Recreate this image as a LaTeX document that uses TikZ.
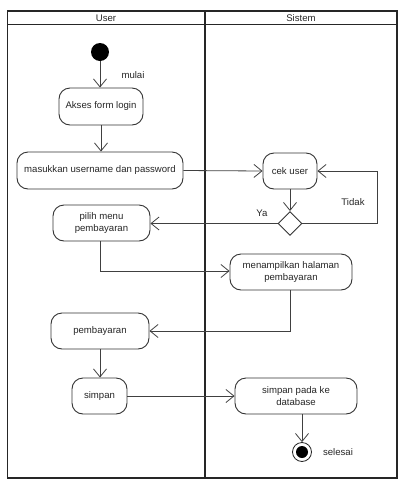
\documentclass[tikz,border=0pt]{standalone}
\usepackage{fontspec}
\setmainfont{Liberation Sans}
\usetikzlibrary{arrows.meta,shapes.geometric,calc}
\begin{document}
\begin{tikzpicture}[x=1pt,y=-1pt,
  every node/.style={font=\fontsize{9.6}{11.5}\selectfont, text=black!85},
  act/.style={draw=black!80, line width=0.9pt, rounded corners=11pt, align=center, inner sep=1pt},
  flow/.style={draw=black!75, line width=0.8pt, -{Straight Barb[length=8pt,width=13pt,line width=0.8pt]}},
  lane/.style={draw=black!85, line width=1.6pt},
  lbl/.style={inner sep=0pt}]
\useasboundingbox (0,0) rectangle (399,480);
% swimlane frame
\draw[lane] (7.5,11) rectangle (397,478);
\draw[lane] (7.5,24.5) -- (397,24.5);
\draw[lane] (205,11) -- (205,478);
\node[lbl] (hUser) at (106,18) {User};
\node[lbl] (hSis) at (301,18) {Sistem};
% nodes
\node[circle, fill=black, minimum size=18pt, inner sep=0pt] (start) at (100,52) {};
\node[lbl] (mulai) at (133,75) {mulai};
\node[act, minimum width=84pt, minimum height=37pt] (akses) at (101,106.5) {Akses form login};
\node[act, minimum width=166pt, minimum height=37pt] (masuk) at (100,170.5) {masukkan username dan password};
\node[act, minimum width=54pt, minimum height=36pt] (cek) at (290,171) {cek user};
\node[diamond, draw=black!80, line width=0.9pt, minimum width=24pt, minimum height=24pt, inner sep=0pt] (dec) at (290,223.5) {};
\node[act, minimum width=97pt, minimum height=36pt] (pilih) at (101.5,223) {pilih menu\\pembayaran};
\node[act, minimum width=122pt, minimum height=36pt] (tampil) at (291,272) {menampilkan halaman\\pembayaran};
\node[act, minimum width=98pt, minimum height=36pt] (bayar) at (100,331) {pembayaran};
\node[act, minimum width=55pt, minimum height=36pt] (simpan) at (99.5,396) {simpan};
\node[act, minimum width=122pt, minimum height=36pt] (db) at (296,396) {simpan pada ke\\database};
\node[circle, draw=black!85, line width=0.8pt, minimum size=19pt, inner sep=0pt] (end) at (302,452) {};
\node[circle, fill=black, minimum size=12pt, inner sep=0pt] (endin) at (302,452) {};
\node[lbl] (selesai) at (338,452) {selesai};
\node[lbl] (ya) at (262,213) {Ya};
\node[lbl] (tidak) at (353,202) {Tidak};
\coordinate (loopA) at (377,223.5);
\coordinate (loopB) at (377,171);
\coordinate (c1) at (100,271);
\coordinate (c2) at (290,331);
% connectors
\draw[flow] (start) -- (start |- akses.north);
\draw[flow] (akses.south) -- (akses.south |- masuk.north);
\draw[flow] (masuk.east) -- (cek.west);
\draw[flow] (cek.south) -- (dec.north);
\draw[flow] (dec.east) -- (loopA) -- (loopB) -- (cek.east);
\draw[flow] (dec.west) -- (dec.west -| pilih.east);
\draw[flow] (pilih.south -| c1) -- (c1) -- (c1 -| tampil.west);
\draw[flow] (tampil.south -| c2) -- (c2) -- (c2 -| bayar.east);
\draw[flow] (bayar.south) -- (bayar.south |- simpan.north);
\draw[flow] (simpan.east) -- (simpan.east -| db.west);
\draw[flow] (end |- db.south) -- (end.north);
\end{tikzpicture}
\end{document}
